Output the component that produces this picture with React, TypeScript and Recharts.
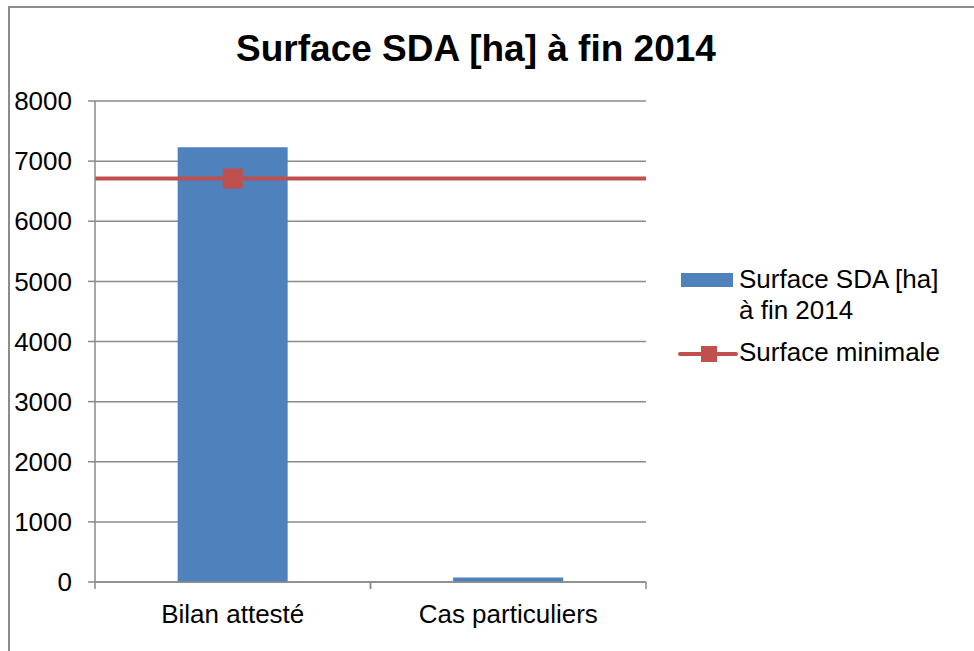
import * as React from "react";
import {
  Bar,
  CartesianGrid,
  ComposedChart,
  Line,
  ReferenceLine,
  XAxis,
  YAxis,
} from "recharts";

// values
const categories = ["Bilan attesté", "Cas particuliers"];
const surfaceSDA = [7230, 75];
const surfaceMinimale = [6710, null];
const yTicks = [0, 1000, 2000, 3000, 4000, 5000, 6000, 7000, 8000];

const TITLE = "Surface SDA [ha] à fin 2014";
const FONT = "Arial, 'Liberation Sans', Helvetica, sans-serif";
const BLUE = "#4F81BD";
const RED = "#C0504D";
const GRID = "#8a8a8a";

const W = 974;
const H = 651;
const MARGIN = { top: 101, right: 328, bottom: 0, left: 0 };
const Y_AXIS_W = 95;
const X_AXIS_H = 69;
const BAND_HALF = (W - MARGIN.right - Y_AXIS_W) / categories.length / 2;

const data = categories.map((name, i) => ({
  name,
  sda: surfaceSDA[i],
  min: surfaceMinimale[i],
}));

// Excel-style category axis: ticks between categories, label in the middle
function CategoryTick(props: any) {
  const { x, y, payload } = props;
  return (
    <g>
      <line x1={x - BAND_HALF} x2={x - BAND_HALF} y1={y} y2={y + 7} stroke={GRID} strokeWidth={1.5} />
      <line x1={x + BAND_HALF} x2={x + BAND_HALF} y1={y} y2={y + 7} stroke={GRID} strokeWidth={1.5} />
      <text x={x} y={y + 41} textAnchor="middle" fill="#000" fontSize={26} fontFamily={FONT}>
        {payload.value}
      </text>
    </g>
  );
}

function SquareDot(props: any) {
  const { cx, cy, value } = props;
  if (value == null || cx == null || cy == null) return null;
  return <rect x={cx - 10} y={cy - 10} width={20} height={20} fill={RED} />;
}

export default function App() {
  return (
    <div style={{ position: "absolute", left: 0, top: 0, width: W, height: H, background: "#fff", fontFamily: FONT }}>
      {/* frame */}
      <div
        style={{
          position: "absolute",
          left: 8,
          top: 6,
          width: W - 8,
          height: H - 6,
          borderTop: "2px solid #8c8c8c",
          borderLeft: "2px solid #8c8c8c",
          boxSizing: "border-box",
        }}
      />

      <div
        style={{
          position: "absolute",
          left: 0,
          top: 30,
          width: 952,
          textAlign: "center",
          fontSize: 37,
          lineHeight: "37px",
          fontWeight: "bold",
          color: "#000",
        }}
      >
        {TITLE}
      </div>

      <div style={{ position: "absolute", left: 0, top: 0 }}>
        <ComposedChart width={W} height={H} data={data} margin={MARGIN} barCategoryGap="30%">
          <CartesianGrid horizontal vertical={false} stroke={GRID} strokeWidth={1.5} />
          <XAxis
            dataKey="name"
            height={X_AXIS_H}
            axisLine={{ stroke: GRID, strokeWidth: 1.5 }}
            tickLine={false}
            tickSize={0}
            tickMargin={0}
            tick={<CategoryTick />}
            interval={0}
          />
          <YAxis
            width={Y_AXIS_W}
            domain={[0, 8000]}
            ticks={yTicks}
            interval={0}
            axisLine={{ stroke: GRID, strokeWidth: 1.5 }}
            tickLine={{ stroke: GRID, strokeWidth: 1.5 }}
            tickSize={7}
            tickMargin={16}
            tick={{ fill: "#000", fontSize: 26, fontFamily: FONT }}
          />
          <Bar dataKey="sda" fill={BLUE} isAnimationActive={false} />
          <ReferenceLine y={surfaceMinimale[0] as number} stroke={RED} strokeWidth={4} />
          <Line
            dataKey="min"
            stroke={RED}
            strokeWidth={4}
            dot={<SquareDot />}
            activeDot={false}
            isAnimationActive={false}
          />
        </ComposedChart>
      </div>

      {/* legend */}
      <svg style={{ position: "absolute", left: 0, top: 0 }} width={W} height={H} pointerEvents="none">
        <rect x={681} y={273} width={52} height={14} fill={BLUE} />
        <line x1={680} x2={736} y1={354} y2={354} stroke={RED} strokeWidth={4} strokeLinecap="round" />
        <rect x={701} y={346} width={16} height={16} fill={RED} />
      </svg>
      <div
        style={{
          position: "absolute",
          left: 739,
          top: 264,
          width: 215,
          fontSize: 26,
          lineHeight: "31px",
          color: "#000",
        }}
      >
        Surface SDA [ha] à fin 2014
      </div>
      <div
        style={{
          position: "absolute",
          left: 739,
          top: 337,
          fontSize: 26,
          lineHeight: "31px",
          color: "#000",
          whiteSpace: "nowrap",
        }}
      >
        Surface minimale
      </div>
    </div>
  );
}
